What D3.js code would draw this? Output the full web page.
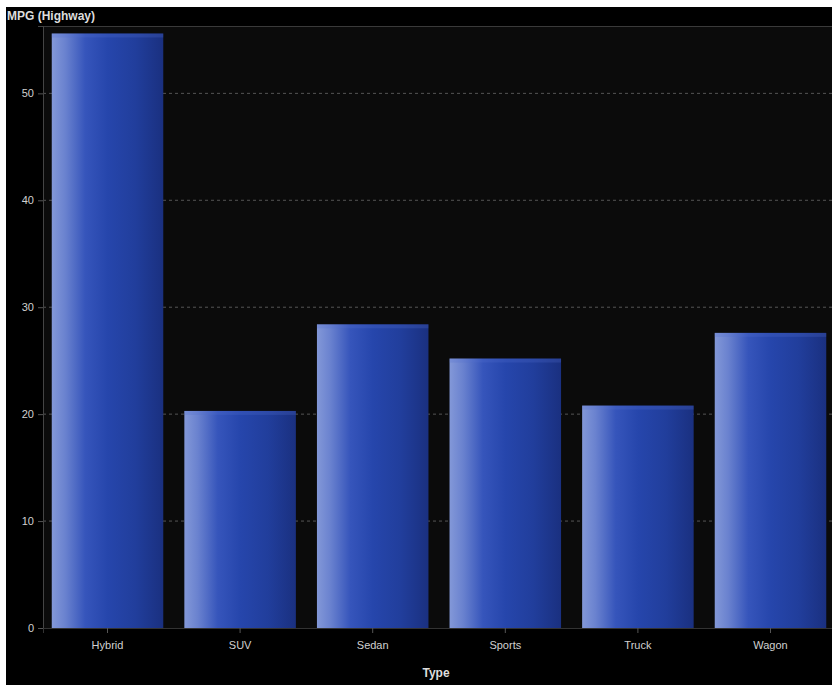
<!DOCTYPE html>
<html>
<head>
<meta charset="utf-8">
<script src="https://cdn.jsdelivr.net/npm/d3@7"></script>
<style>
  body { margin: 0; background: #fff; }
  svg { display: block; }
</style>
</head>
<body>
<svg id="chart" width="832" height="685"></svg>
<script>
// dados do gráfico
const tipos = ["Hybrid", "SUV", "Sedan", "Sports", "Truck", "Wagon"];
const mpgHighway = [55.6, 20.3, 28.4, 25.2, 20.8, 27.6];
const ticksY = [0, 10, 20, 30, 40, 50];

const svg = d3.select("#chart");
const W = 832, H = 685;
const margin = { top: 26, right: -3, bottom: 57, left: 43 };
const innerW = W - margin.left - margin.right;
const innerH = H - margin.top - margin.bottom;

// fundo preto com a faixa branca à esquerda e em cima
svg.append("rect").attr("x", 6).attr("y", 7).attr("width", W - 6).attr("height", H - 7).attr("fill", "#000");

const g = svg.append("g").attr("transform", `translate(${margin.left},${margin.top})`);
g.append("rect").attr("width", innerW).attr("height", innerH).attr("fill", "#0b0b0b");

const x = d3.scaleBand().domain(tipos).range([0, innerW]).paddingInner(0.159).paddingOuter(0.066);
const y = d3.scaleLinear().domain([0, 56.3]).range([innerH, 0]);

// gradiente horizontal das barras
const defs = svg.append("defs");
const grad = defs.append("linearGradient").attr("id", "barGrad").attr("x1", "0").attr("x2", "1").attr("y1", "0").attr("y2", "0");
[[0, "#8398d8"], [0.12, "#6a82cf"], [0.3, "#3655bb"], [0.5, "#2646ac"], [0.75, "#213e9c"], [1, "#1a3080"]]
  .forEach(([o, c]) => grad.append("stop").attr("offset", o).attr("stop-color", c));

// linhas de grade tracejadas
g.append("g").selectAll("line")
  .data(ticksY.filter(d => d > 0))
  .enter().append("line")
  .attr("x1", 0).attr("x2", innerW)
  .attr("y1", d => y(d)).attr("y2", d => y(d))
  .attr("stroke", "#555").attr("stroke-width", 1).attr("stroke-dasharray", "3,3");

// linha superior da área do gráfico
g.append("line").attr("x1", 0).attr("x2", innerW).attr("y1", 0.5).attr("y2", 0.5).attr("stroke", "#3a3a3a");

// barras
const barras = g.append("g").selectAll("g").data(tipos).enter().append("g");
barras.append("rect")
  .attr("x", d => x(d))
  .attr("y", (d, i) => y(mpgHighway[i]))
  .attr("width", x.bandwidth())
  .attr("height", (d, i) => innerH - y(mpgHighway[i]))
  .attr("fill", "url(#barGrad)");
barras.append("rect")
  .attr("x", d => x(d))
  .attr("y", (d, i) => y(mpgHighway[i]))
  .attr("width", x.bandwidth())
  .attr("height", 4)
  .attr("fill", "#5570d0").attr("opacity", 0.25);

// eixo Y
const eixoY = g.append("g").call(d3.axisLeft(y).tickValues(ticksY).tickSize(5).tickPadding(4));
eixoY.select(".domain").attr("stroke", "#444");
eixoY.selectAll(".tick line").attr("stroke", "#555");
eixoY.selectAll("text").attr("fill", "#d0d0d0").style("font-family", "Liberation Sans, Arial, sans-serif").style("font-size", "11px");

// eixo X
const eixoX = g.append("g").attr("transform", `translate(0,${innerH})`)
  .call(d3.axisBottom(x).tickSize(5).tickPadding(8));
eixoX.select(".domain").attr("stroke", "#333");
eixoX.selectAll(".tick line").attr("stroke", "#555");
eixoX.selectAll("text").attr("fill", "#d0d0d0").style("font-family", "Liberation Sans, Arial, sans-serif").style("font-size", "11px");

// títulos
svg.append("text").attr("x", 7).attr("y", 20)
  .text("MPG (Highway)")
  .attr("fill", "#ddd").style("font-family", "Liberation Sans, Arial, sans-serif")
  .style("font-size", "12px").style("font-weight", "bold");

svg.append("text").attr("x", 436).attr("y", 677)
  .attr("text-anchor", "middle")
  .text("Type")
  .attr("fill", "#ddd").style("font-family", "Liberation Sans, Arial, sans-serif")
  .style("font-size", "12px").style("font-weight", "bold");
</script>
</body>
</html>
